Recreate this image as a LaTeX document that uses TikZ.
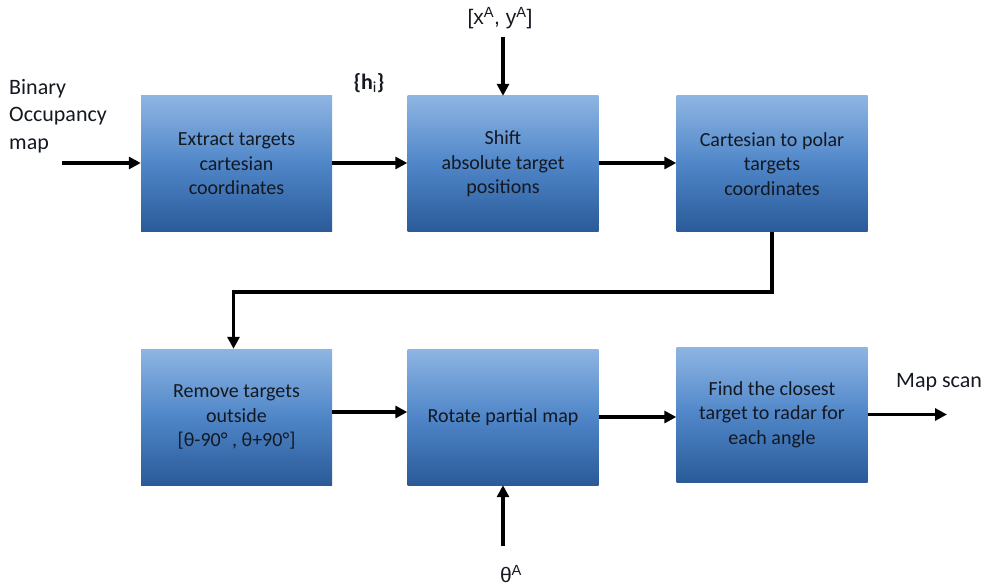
\documentclass[tikz,border=0pt]{standalone}
\usepackage{fontspec}
\setmainfont{Carlito}
\newfontfamily\arialfont{Liberation Sans}
\usetikzlibrary{arrows.meta}
\definecolor{boxtop}{HTML}{8EB5E3}
\definecolor{boxmid}{HTML}{4F86C8}
\definecolor{boxbot}{HTML}{2A5A98}
\definecolor{ink}{HTML}{141821}
\begin{document}
\begin{tikzpicture}[x=1pt,y=-1pt,
  block/.style={minimum width=191pt,minimum height=136pt,inner sep=0pt,
    top color=boxtop,bottom color=boxbot,middle color=boxmid,
    align=center,text=ink,font=\fontsize{20}{24.5}\selectfont},
  lbl/.style={inner sep=0pt,text=ink,font=\fontsize{22}{27.5}\selectfont},
  arr/.style={line width=3.5pt,-{Triangle[length=12pt,width=12pt]}}]
\useasboundingbox (0,0) rectangle (991,588);

% processing blocks
\node[block] (b1) at (236.5,164) {Extract targets\\cartesian\\coordinates};
\node[block] (b2) at (503,164) {Shift\\absolute target\\positions};
\node[block] (b3) at (772,164) {Cartesian to polar\\targets\\coordinates};
\node[block] (b4) at (236.5,417) {Remove targets\\outside\\{}[θ-90° , θ+90°]};
\node[block] (b5) at (503,417) {Rotate partial map};
\node[block,minimum height=135pt] (b6) at (772,414.5) {Find the closest\\target to radar for\\each angle};

% labels
\node[lbl,anchor=west,align=left] (inlbl) at (9,116) {Binary\\Occupancy\\map};
\node[lbl,font=\fontsize{22}{27}\selectfont\bfseries] (hlbl) at (369,83) {\{h$_\mathrm{i}$\}};
\node[lbl,font=\arialfont\fontsize{21}{25}\selectfont] (xylbl) at (500,18) {[x\textsuperscript{A}, y\textsuperscript{A}]};
\node[lbl,font=\arialfont\fontsize{21}{25}\selectfont] (thlbl) at (511,574) {θ\textsuperscript{A}};
\node[lbl,anchor=west] (outlbl) at (896,382) {Map scan};

% free ends of connectors
\coordinate (inpt) at (62,163);
\coordinate (xytop) at (503,37);
\coordinate (thbot) at (503,546);
\coordinate (outpt) at (947,414.5);
\coordinate (bend) at (500,292);

% connectors
\draw[arr] (inpt) -- (b1.west |- inpt);
\draw[arr] (b1.east |- inpt) -- (b2.west |- inpt);
\draw[arr] (b2.east |- inpt) -- (b3.west |- inpt);
\draw[arr] (xytop) -- (b2.north);
\draw[arr] (b3.south) |- (bend) -| ([xshift=-3pt]b4.north);
\draw[arr] ([yshift=5pt]b4.east) -- ([yshift=5pt]b5.west);
\draw[arr] (b5.east) -- (b6.west |- b5.east);
\draw[arr] (b6.east) -- (outpt);
\draw[arr] (thbot) -- (b5.south);
\end{tikzpicture}
\end{document}
